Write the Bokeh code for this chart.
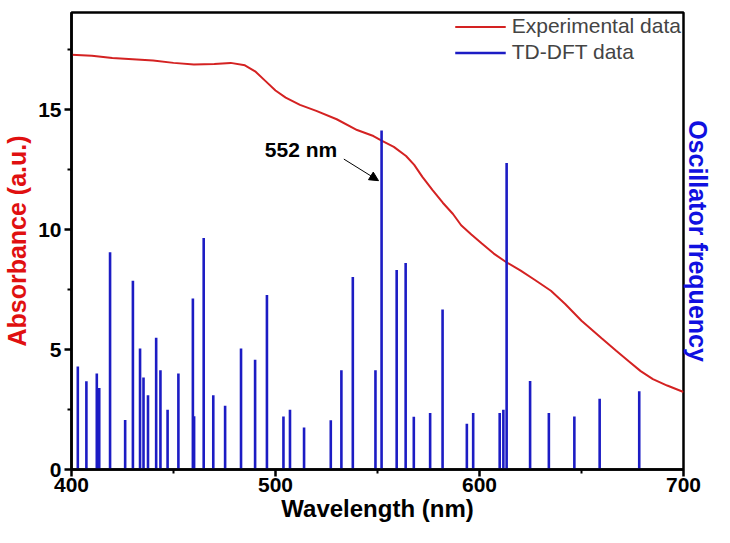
from bokeh.plotting import figure
from bokeh.models import (FixedTicker, Label, Arrow, NormalHead, Legend, Range1d,
                          LinearAxis)
from bokeh.embed import file_html
from bokeh.resources import INLINE

# --- data -------------------------------------------------------------
exp_wavelength = [400, 410, 420, 430, 440, 450, 460, 470, 478, 485, 490, 495,
                  500, 505, 512, 520, 530, 540, 548, 552, 558, 564, 568, 572,
                  577, 582, 587, 591, 596, 601, 607, 613, 620, 627, 635, 642,
                  650, 660, 667, 673, 679, 685, 692, 700]
exp_absorbance = [17.29, 17.25, 17.15, 17.10, 17.05, 16.95, 16.88, 16.90, 16.95,
                  16.85, 16.60, 16.20, 15.80, 15.50, 15.20, 14.95, 14.60, 14.15,
                  13.90, 13.71, 13.45, 13.07, 12.70, 12.20, 11.65, 11.12, 10.65,
                  10.18, 9.80, 9.43, 9.00, 8.65, 8.30, 7.91, 7.45, 6.90, 6.20,
                  5.46, 4.95, 4.52, 4.10, 3.77, 3.50, 3.23]

dft_wavelength = [403.1, 407.3, 412.4, 413.6, 418.9, 426.3, 430.1, 433.6, 435.3,
                  437.5, 441.5, 443.6, 447.1, 452.4, 459.5, 460.1, 464.8, 469.5,
                  475.3, 483.1, 490.0, 495.8, 503.9, 507.1, 514.0, 527.1, 532.3,
                  537.9, 549.0, 552.0, 559.4, 563.8, 567.8, 575.8, 581.9, 593.8,
                  596.9, 609.9, 611.7, 613.3, 624.8, 634.0, 646.5, 658.9, 678.3]
dft_strength = [4.29, 3.68, 4.00, 3.40, 9.06, 2.06, 7.87, 5.04, 3.84,
                3.10, 5.49, 4.14, 2.49, 4.00, 7.13, 2.22, 9.65, 3.09,
                2.66, 5.04, 4.58, 7.27, 2.21, 2.49, 1.75, 2.05, 4.14,
                8.02, 4.14, 14.13, 8.32, 8.61, 2.20, 2.36, 6.67, 1.91,
                2.36, 2.36, 2.49, 12.78, 3.69, 2.36, 2.21, 2.95, 3.26]

x_ticks = [400, 500, 600, 700]
x_minor = [450, 550, 650]
y_ticks = [0, 5, 10, 15]
y_minor = [2.5, 7.5, 12.5, 17.5]

peak_label = "552 nm"
peak_wavelength = 552.0

RED = "#d42222"
BLUE = "#1c1cc4"
FONT = "Liberation Sans"

# --- figure -------------------------------------------------------------
p = figure(width=714, height=527, output_backend="svg", toolbar_location=None,
           x_range=Range1d(400, 700), y_range=Range1d(0, 19.05),
           min_border_left=68, min_border_right=28, min_border_top=12,
           min_border_bottom=58)
p.grid.visible = False
p.outline_line_color = "black"
p.outline_line_width = 2.5
p.background_fill_color = "white"
p.border_fill_color = "white"

line_r = p.line(exp_wavelength, exp_absorbance, line_color=RED, line_width=2)
bars_r = p.segment(x0=dft_wavelength, y0=[0] * len(dft_strength),
                   x1=dft_wavelength, y1=dft_strength,
                   line_color=BLUE, line_width=2.6)

legend = Legend(items=[("Experimental data", [line_r]), ("TD-DFT data", [bars_r])],
                location="top_right", border_line_color=None,
                background_fill_alpha=0, label_text_font=FONT,
                label_text_font_size="21px", glyph_width=51, glyph_height=23,
                label_height=23, spacing=2, padding=5, margin=2,
                label_standoff=6)
p.add_layout(legend)

for ax in (p.xaxis[0], p.yaxis[0]):
    ax.axis_line_width = 2.5
    ax.major_tick_line_width = 2.5
    ax.minor_tick_line_width = 2
    ax.major_tick_out = 7
    ax.major_tick_in = 0
    ax.minor_tick_out = 4
    ax.minor_tick_in = 0
    ax.major_label_text_font = FONT
    ax.major_label_text_font_style = "bold"
    ax.major_label_text_font_size = "21px"
    ax.major_label_text_color = "black"
    ax.axis_label_text_font = FONT
    ax.axis_label_text_font_style = "bold"

p.xaxis.ticker = FixedTicker(ticks=x_ticks, minor_ticks=x_minor)
p.yaxis.ticker = FixedTicker(ticks=y_ticks, minor_ticks=y_minor)
p.xaxis.major_label_standoff = 1
p.yaxis.major_label_standoff = 3

p.xaxis.axis_label = "Wavelength (nm)"
p.xaxis.axis_label_text_font_size = "24px"
p.xaxis.axis_label_text_color = "black"
p.xaxis.axis_label_standoff = 0

p.yaxis.axis_label = "Absorbance (a.u.)"
p.yaxis.axis_label_text_font_size = "25px"
p.yaxis.axis_label_text_color = "#e01010"
p.yaxis.axis_label_standoff = 4

# right-side title (axis with no ticks, invisible rule)
right_ax = LinearAxis(ticker=FixedTicker(ticks=[]), axis_label="Oscillator frequency",
                      axis_line_color=None, major_tick_line_color=None,
                      minor_tick_line_color=None,
                      axis_label_text_font=FONT, axis_label_text_font_style="bold",
                      axis_label_text_font_size="25px", axis_label_text_color="#1010e0",
                      axis_label_standoff=0, major_label_standoff=0)
right_ax.major_tick_out = 0
right_ax.major_tick_in = 0
right_ax.minor_tick_out = 0
right_ax.minor_tick_in = 0
p.add_layout(right_ax, "right")

# peak annotation
p.add_layout(Label(x=512.5, y=13.34, text=peak_label, text_font=FONT,
                   text_font_style="bold", text_font_size="21px",
                   text_align="center", text_baseline="middle", text_color="black"))
p.add_layout(Arrow(end=NormalHead(size=9, fill_color="black", line_color="black"),
                   x_start=533.5, y_start=12.94, x_end=peak_wavelength - 1.5, y_end=12.04,
                   line_width=1, line_color="black"))

open("out.html", "w").write(file_html(p, INLINE))
